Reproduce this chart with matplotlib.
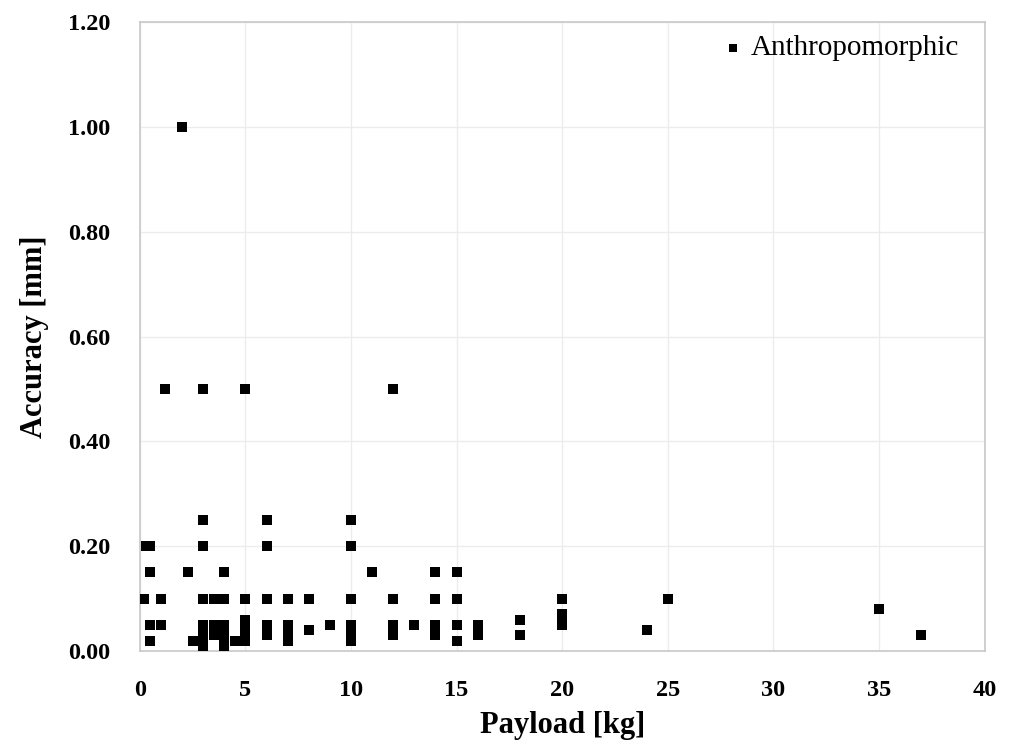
import matplotlib.pyplot as plt

payload = [2,
           1.2, 3, 5, 12,
           3, 6, 10,
           0.3, 0.5, 3, 6, 10,
           0.5, 2.3, 4, 11, 14, 15,
           0.2, 1, 3, 3.5, 4, 5, 6, 7, 8, 10, 12, 14, 15, 20, 25,
           35,
           20, 20, 18, 5,
           0.5, 1, 3, 3.5, 4, 5, 6, 7, 9, 10, 12, 13, 14, 15, 16, 20,
           5, 7, 8, 12, 24,
           3, 3.5, 4, 5, 6, 7, 10, 12, 14, 16, 18, 37,
           0.5, 2.5, 3, 4, 4.5, 5, 7, 10, 15,
           3, 4]
accuracy = [1.0,
            0.5, 0.5, 0.5, 0.5,
            0.25, 0.25, 0.25,
            0.2, 0.2, 0.2, 0.2, 0.2,
            0.15, 0.15, 0.15, 0.15, 0.15, 0.15,
            0.1, 0.1, 0.1, 0.1, 0.1, 0.1, 0.1, 0.1, 0.1, 0.1, 0.1, 0.1, 0.1, 0.1, 0.1,
            0.08,
            0.07, 0.06, 0.06, 0.06,
            0.05, 0.05, 0.05, 0.05, 0.05, 0.05, 0.05, 0.05, 0.05, 0.05, 0.05, 0.05, 0.05, 0.05, 0.05, 0.05,
            0.04, 0.04, 0.04, 0.04, 0.04,
            0.03, 0.03, 0.03, 0.03, 0.03, 0.03, 0.03, 0.03, 0.03, 0.03, 0.03, 0.03,
            0.02, 0.02, 0.02, 0.02, 0.02, 0.02, 0.02, 0.02, 0.02,
            0.01, 0.01]

plt.rcParams['font.family'] = ['Liberation Serif', 'DejaVu Serif']

fig = plt.figure(figsize=(10.13, 7.44), dpi=100)
ax = fig.add_axes([0.138, 0.125, 0.834, 0.845])

ax.scatter(payload, accuracy, marker='s', s=55, color='black', linewidths=0,
           label='Anthropomorphic', zorder=3)

ax.set_xlim(0, 40)
ax.set_ylim(0, 1.2)
ax.set_xticks(range(0, 41, 5))
ax.set_yticks([i * 0.2 for i in range(7)])
ax.set_yticklabels([f'{i * 0.2:.2f}' for i in range(7)])
ax.grid(True, color='#ececec', linewidth=1)
ax.set_axisbelow(True)
ax.tick_params(length=0, labelsize=17.5)
ax.tick_params(axis='x', pad=21)
ax.tick_params(axis='y', pad=21)
for lbl in ax.get_xticklabels() + ax.get_yticklabels():
    lbl.set_fontweight('bold')
for s in ax.spines.values():
    s.set_color('#c8c8c8')
    s.set_linewidth(1.2)

ax.set_xlabel('Payload [kg]', fontsize=22, fontweight='bold', labelpad=7)
ax.set_ylabel('Accuracy [mm]', fontsize=22, fontweight='bold', labelpad=14)

ax.legend(loc='upper right', bbox_to_anchor=(0.98, 0.994), frameon=False,
          fontsize=21, handlelength=0.6, handletextpad=0.3, markerscale=0.7,
          borderaxespad=0.1, borderpad=0.2)

fig.savefig('out.png')
